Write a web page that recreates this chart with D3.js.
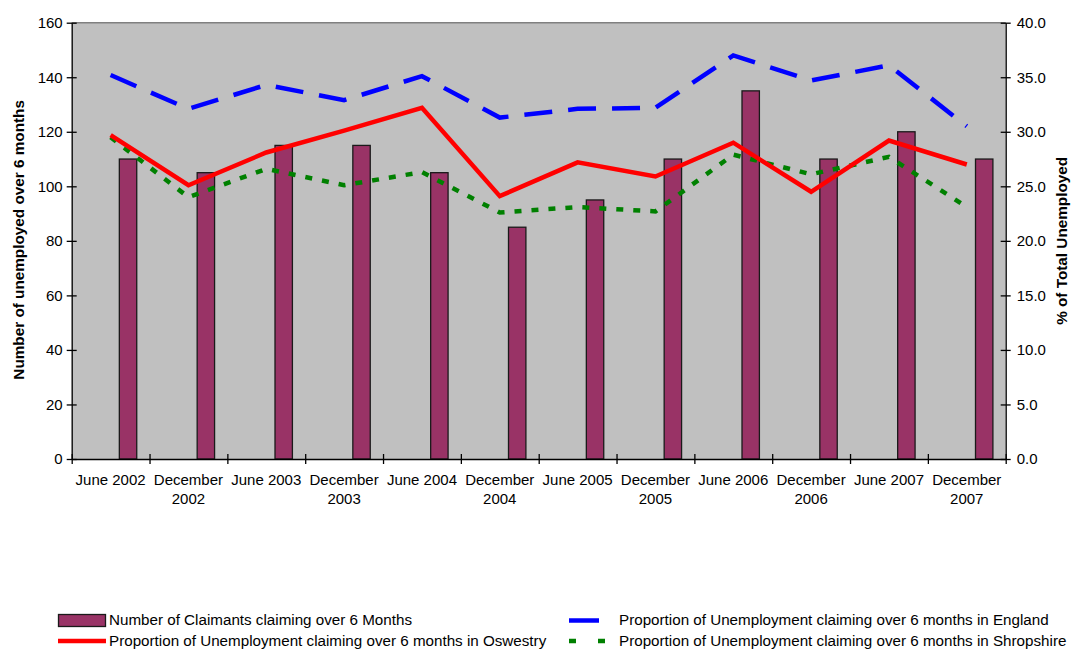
<!DOCTYPE html>
<html>
<head>
<meta charset="utf-8">
<script src="https://cdn.jsdelivr.net/npm/d3@7"></script>
<style>
  html, body { margin: 0; padding: 0; background: #fff; }
  svg { display: block; font-family: "Liberation Sans", Arial, sans-serif; }
</style>
</head>
<body>
<svg id="chart" width="1071" height="649"></svg>
<script>
const categories = ["June 2002","December 2002","June 2003","December 2003","June 2004","December 2004",
                    "June 2005","December 2005","June 2006","December 2006","June 2007","December 2007"];
const claimants  = [110,105,115,115,105,85,95,110,135,110,120,110];
const oswestry   = [29.7,25.1,28.1,30.1,32.2,24.1,27.2,25.9,29.0,24.5,29.2,27.0];
const england    = [35.2,32.1,34.3,32.9,35.1,31.3,32.1,32.2,37.0,34.7,36.1,30.5];
const shropshire = [29.5,24.0,26.6,25.1,26.3,22.6,23.1,22.7,27.9,26.1,27.7,23.1];
const leftTicks  = [0,20,40,60,80,100,120,140,160];
const rightTicks = [0,5,10,15,20,25,30,35,40];
const legendLabels = [
  "Number of Claimants claiming over 6 Months",
  "Proportion of Unemployment claiming over 6 months in Oswestry",
  "Proportion of Unemployment claiming over 6 months in England",
  "Proportion of Unemployment claiming over 6 months in Shropshire"
];
const leftTitle = "Number of unemployed over 6 months";
const rightTitle = "% of Total Unemployed";

const svg = d3.select("#chart");
const L = 71.7, R = 1005.7, T = 22.7, B = 459;
const FS = 15;

const x = d3.scaleBand().domain(categories).range([L, R]).padding(0);
const bw = x.bandwidth();
const xTick = d3.scaleLinear().domain([0, categories.length]).range([L, R]);
const yL = d3.scaleLinear().domain([0, 160]).range([B, T]);
const yR = d3.scaleLinear().domain([0, 40]).range([B, T]);

// plot background
svg.append("rect").attr("x", L).attr("y", T).attr("width", R - L).attr("height", B - T)
   .attr("fill", "#C0C0C0");
svg.append("line").attr("x1", L).attr("x2", R).attr("y1", T).attr("y2", T)
   .attr("stroke", "#808080").attr("stroke-width", 1.5);

// bars
svg.append("g").selectAll("rect").data(claimants).join("rect")
  .attr("x", (d, i) => x(categories[i]) + bw * 0.612)
  .attr("width", bw * 0.2236)
  .attr("y", d => yL(d))
  .attr("height", d => B - yL(d))
  .attr("fill", "#993366").attr("stroke", "#1a1a1a").attr("stroke-width", 1.3);

// lines
const cx = i => x(categories[i]) + bw / 2;
const line = d3.line().x((d, i) => cx(i)).y(d => yR(d));
svg.append("path").datum(england).attr("d", line).attr("fill", "none")
  .attr("stroke", "#0000FF").attr("stroke-width", 4.5).attr("stroke-dasharray", "28,16");
svg.append("path").datum(shropshire).attr("d", line).attr("fill", "none")
  .attr("stroke", "#008000").attr("stroke-width", 4.5).attr("stroke-dasharray", "7,10");
svg.append("path").datum(oswestry).attr("d", line).attr("fill", "none")
  .attr("stroke", "#FF0000").attr("stroke-width", 4.5).attr("stroke-linejoin", "miter");

// left axis
const gL = svg.append("g").attr("transform", `translate(${L},0)`)
  .call(d3.axisLeft(yL).tickValues(leftTicks).tickSize(5).tickSizeOuter(0).tickPadding(4));
gL.selectAll(".tick line").attr("x1", 5).attr("x2", -5);
gL.selectAll(".tick text").attr("x", -9);

// right axis
const gR = svg.append("g").attr("transform", `translate(${R},0)`)
  .call(d3.axisRight(yR).tickValues(rightTicks).tickFormat(d3.format(".1f")).tickSize(5).tickSizeOuter(0));
gR.selectAll(".tick line").attr("x1", -5).attr("x2", 5);
gR.selectAll(".tick text").attr("x", 11);

// bottom axis
const gB = svg.append("g").attr("transform", `translate(0,${B})`)
  .call(d3.axisBottom(xTick).tickValues(d3.range(categories.length + 1)).tickFormat("").tickSize(5).tickSizeOuter(0));
gB.selectAll(".tick line").attr("y1", -5).attr("y2", 5);

[gL, gR, gB].forEach(g => {
  g.selectAll("text").attr("font-size", FS).attr("fill", "#000").attr("font-family", "Liberation Sans, Arial, sans-serif");
  g.selectAll("line,path").attr("stroke", "#000").attr("stroke-width", 1.3);
});

// category labels with wrapping
const gX = svg.append("g").attr("font-size", FS).attr("text-anchor", "middle");
categories.forEach((c, i) => {
  const t = gX.append("text").attr("x", cx(i)).attr("y", 485);
  t.text(c);
  if (t.node().getComputedTextLength() > bw - 4) {
    const parts = c.split(" ");
    t.text(null);
    parts.forEach((p, k) => t.append("tspan").attr("x", cx(i)).attr("y", 485 + k * 19).text(p));
  }
});

// axis titles
svg.append("text").attr("transform", `translate(23.5,${(T + B) / 2 - 1}) rotate(-90)`)
  .attr("text-anchor", "middle").attr("font-size", 15.3).attr("font-weight", "bold").text(leftTitle);
svg.append("text").attr("transform", `translate(1067,${(T + B) / 2}) rotate(-90)`)
  .attr("text-anchor", "middle").attr("font-size", 15.3).attr("font-weight", "bold").text(rightTitle);

// legend
const lg = svg.append("g").attr("font-size", 15.2);
lg.append("rect").attr("x", 58.5).attr("y", 614.5).attr("width", 47).attr("height", 12)
  .attr("fill", "#993366").attr("stroke", "#1a1a1a").attr("stroke-width", 1.3);
lg.append("text").attr("x", 109).attr("y", 620).attr("dy", "0.35em").text(legendLabels[0]);
lg.append("line").attr("x1", 58).attr("x2", 106).attr("y1", 641).attr("y2", 641)
  .attr("stroke", "#FF0000").attr("stroke-width", 4.5);
lg.append("text").attr("x", 109).attr("y", 641).attr("dy", "0.35em").text(legendLabels[1]);
lg.append("line").attr("x1", 569).attr("x2", 599).attr("y1", 620.5).attr("y2", 620.5)
  .attr("stroke", "#0000FF").attr("stroke-width", 4.5);
lg.append("text").attr("x", 619).attr("y", 620).attr("dy", "0.35em").text(legendLabels[2]);
lg.append("line").attr("x1", 569).attr("x2", 605).attr("y1", 641).attr("y2", 641)
  .attr("stroke", "#008000").attr("stroke-width", 4.5).attr("stroke-dasharray", "7,22");
lg.append("text").attr("x", 619).attr("y", 641).attr("dy", "0.35em").text(legendLabels[3]);
</script>
</body>
</html>
